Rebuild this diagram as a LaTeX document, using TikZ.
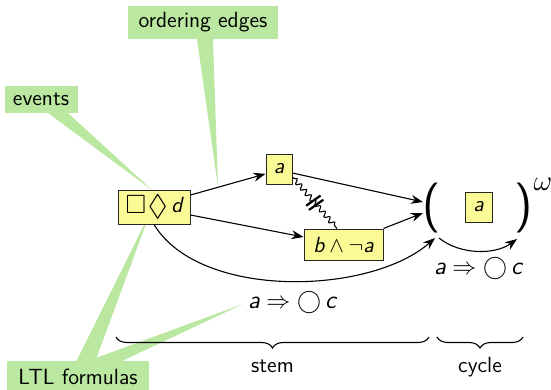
\documentclass[tikz,border=0pt]{standalone}
\usepackage{amsmath,amssymb}
\usepackage{fontspec}
\usetikzlibrary{arrows.meta,decorations.pathmorphing,decorations.pathreplacing}
\renewcommand{\familydefault}{\sfdefault}
\newcommand{\lv}[1]{\textit{#1}}
\newcommand{\bigbox}{\mathord{\raisebox{-0.7pt}{\scalebox{1.2}{$\Box$}}}}
\newcommand{\bigdia}{\mathord{\raisebox{-1.6pt}{\scalebox{1.35}{$\Diamond$}}}}
\definecolor{evfill}{RGB}{250,250,150}
\definecolor{callgreen}{RGB}{186,232,160}

\begin{document}
\begin{tikzpicture}[x=0.5pt,y=-0.5pt,
  font=\fontsize{11}{13}\selectfont\sffamily,
  line width=0.55pt,
  >={Stealth[length=6pt,width=4.5pt]},
  ev/.style={draw=black!85, fill=evfill, line width=0.5pt, inner sep=0pt},
  tag/.style={fill=callgreen, inner sep=0pt},
  wedge/.style={fill=callgreen},
  formula/.style={font=\fontsize{12.5}{14}\selectfont\sffamily, inner sep=0pt},
  paren/.style={font=\fontsize{25}{25}\selectfont\sffamily, inner sep=0pt},
  bracelabel/.style={midway, anchor=base, yshift=-17.5pt, inner sep=0pt},
  wiggle/.style={decorate, decoration={snake, amplitude=1.2pt, segment length=3.6pt, pre length=1pt, post length=1pt}},
  bracebelow/.style={decorate, decoration={brace, mirror, amplitude=5.5pt}},
]
\useasboundingbox (0,0) rectangle (551,390);

% pointers of the callouts
\fill[wedge] (48,113) -- (68,113) -- (152,190) -- cycle;
\fill[wedge] (197,39) -- (213,39) -- (218,187) -- cycle;
\fill[wedge] (76,362) -- (95,362) -- (150,213) -- cycle;
\fill[wedge] (85,362) -- (120,362) -- (243,304) -- cycle;

% callout labels
\node[tag, minimum width=36.5pt, minimum height=13.5pt] (events) at (41,99.5) {events};
\node[tag, minimum width=75pt, minimum height=16.5pt] (ordering) at (203,22.5) {ordering edges};
\node[tag, minimum width=71pt, minimum height=15.5pt] (ltl) at (78,376.5) {LTL formulas};

% events
\node[ev, minimum width=36pt, minimum height=17pt] (box) at (154,207) {$\bigbox\mkern1.5mu\bigdia\mkern3mu\lv{d}$};
\node[ev, minimum width=13pt, minimum height=15pt] (a) at (279,169) {$\lv{a}$};
\node[ev, minimum width=39.5pt, minimum height=15.5pt] (b) at (343.5,244.5) {$\lv{b}\wedge\neg\lv{a}$};

% the repeated cycle
\node[paren] (lp) at (432,208) {(};
\node[paren] (rp) at (523.5,208) {)};
\node[inner sep=0pt, font=\fontsize{14}{14}\selectfont] (omega) at (543,184) {$\omega$};
\node[ev, minimum width=13.5pt, minimum height=15pt] (ca) at (478.5,207) {$\lv{a}$};

\coordinate (in1) at (423,202);
\coordinate (in2) at (423,213);
\coordinate (in3) at (435,238);
\coordinate (cyS) at (439,238);
\coordinate (cyE) at (517,239);

% ordering edges
\draw[->] ([yshift=6pt]box.east) -- (a.200);
\draw[->] ([yshift=-4pt]box.east) -- ([yshift=3.75pt]b.west);
\draw[->] ([yshift=-2pt]a.east) -- (in1);
\draw[->] (b.north east) -- (in2);
\draw[->] (box.south) .. controls (200,300) and (370,295) .. (in3);
\draw[->] (cyS) .. controls (460,255) and (495,255) .. (cyE);

% conflict between a and b
\draw[wiggle] ([yshift=-4pt]a.east) -- ([xshift=-3.25pt]b.north) coordinate[pos=0.5] (mid);
\draw[line width=1.1pt] ([shift={(-5.8,7.2)}]mid) -- ([shift={(8.6,-3)}]mid);
\draw[line width=1.1pt] ([shift={(-8.6,3)}]mid) -- ([shift={(5.8,-7.2)}]mid);

% formulas attached to the edges
\node[formula] (f1) at (292,302) {$\lv{a}\Rightarrow\bigcirc\,\lv{c}$};
\node[formula] (f2) at (478,268) {$\lv{a}\Rightarrow\bigcirc\,\lv{c}$};

% stem and cycle
\coordinate (s1) at (116,337);
\coordinate (s2) at (429,337);
\coordinate (c1) at (437,337);
\coordinate (c2) at (523,337);
\draw[bracebelow] (s1) -- (s2) node[bracelabel] (stem) {stem};
\draw[bracebelow] (c1) -- (c2) node[bracelabel] (cyc) {cycle};
\end{tikzpicture}
\end{document}
